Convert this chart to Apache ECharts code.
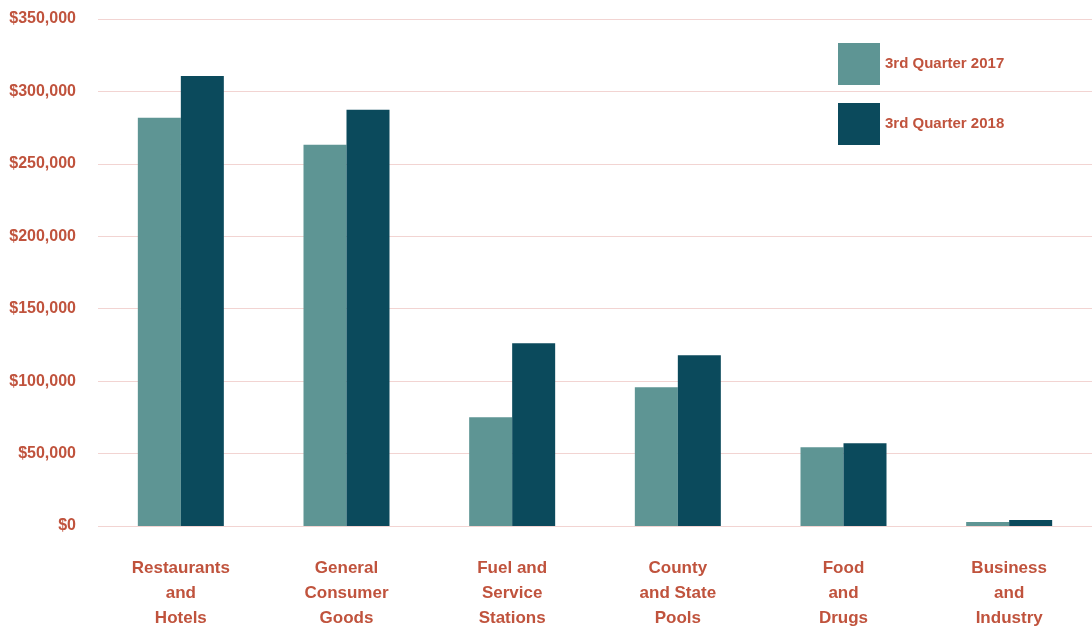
<!DOCTYPE html>
<html>
<head>
<meta charset="utf-8">
<script src="https://cdn.jsdelivr.net/npm/echarts@6/dist/echarts.min.js"></script>
<style>
  html, body { margin: 0; padding: 0; background: #fff; }
  #chart { width: 1092px; height: 631px; }
</style>
</head>
<body>
<div id="chart"></div>
<script>
var categories = ['Restaurants\nand\nHotels', 'General\nConsumer\nGoods', 'Fuel and\nService\nStations',
	'County\nand State\nPools', 'Food\nand\nDrugs', 'Business\nand\nIndustry'];
var q2017 = [281800, 263200, 75100, 95800, 54400, 2800];
var q2018 = [310700, 287300, 126100, 117800, 57200, 4100];
var seriesNames = ['3rd Quarter 2017', '3rd Quarter 2018'];

var textColor = '#c0533d';
var fontFam = '"Liberation Sans", Arial, sans-serif';

var chart = echarts.init(document.getElementById('chart'));
var option = {
	animation : false,
	grid : {
		left : 98,
		right : 0,
		top : 19,
		bottom : 104
	},
	legend : {
		orient : 'vertical',
		left : 833,
		top : 38,
		itemWidth : 42,
		itemHeight : 42,
		itemGap : 18,
		icon : 'rect',
		textStyle : {
			color : textColor,
			fontSize : 15,
			fontWeight : 'bold',
			fontFamily : fontFam
		},
		data : seriesNames
	},
	xAxis : {
		type : 'category',
		data : categories,
		axisLine : { show : false },
		axisTick : { show : false },
		axisLabel : {
			color : textColor,
			fontSize : 17,
			fontWeight : 'bold',
			fontFamily : fontFam,
			lineHeight : 25,
			margin : 30
		}
	},
	yAxis : {
		type : 'value',
		min : 0,
		max : 350000,
		interval : 50000,
		axisLine : { show : false },
		axisTick : { show : false },
		splitLine : {
			lineStyle : { color : '#f2d4d2', width : 1 }
		},
		axisLabel : {
			color : textColor,
			fontSize : 16,
			fontWeight : 'bold',
			fontFamily : fontFam,
			margin : 22,
			formatter : function(v) {
				return '$' + v.toLocaleString('en-US');
			}
		}
	},
	series : [
		{
			name : seriesNames[0],
			type : 'bar',
			data : q2017,
			barWidth : 43,
			barGap : '0%',
			itemStyle : { color : '#5e9594' }
		},
		{
			name : seriesNames[1],
			type : 'bar',
			data : q2018,
			barWidth : 43,
			barGap : '0%',
			itemStyle : { color : '#0b4a5c' }
		}
	]
};
chart.setOption(option);
window.onresize = chart.resize;
</script>
</body>
</html>
